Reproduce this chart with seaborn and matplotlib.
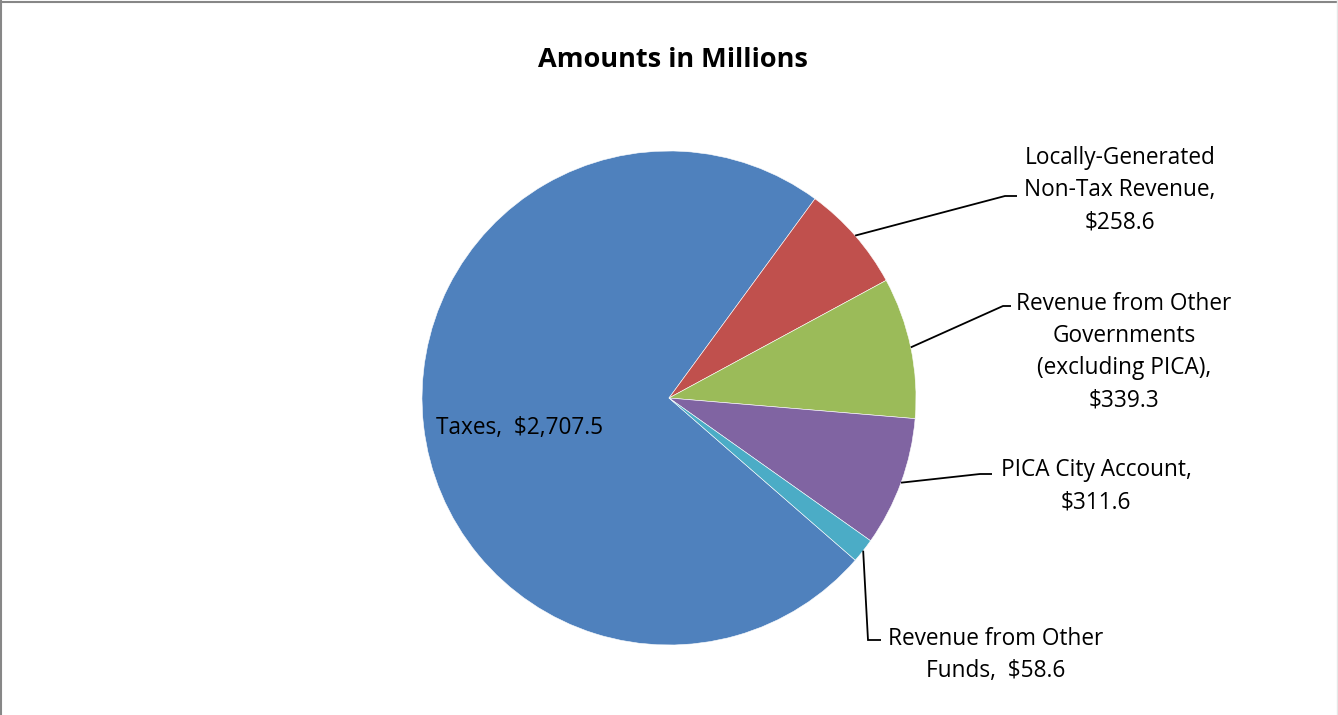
import matplotlib
matplotlib.use("Agg")
import matplotlib.pyplot as plt
from matplotlib.lines import Line2D
import numpy as np
import seaborn as sns

# ---- data ----
categories = ["Taxes", "Locally-Generated\nNon-Tax Revenue",
              "Revenue from Other\nGovernments\n(excluding PICA)",
              "PICA City Account", "Revenue from Other\nFunds"]
values = [2707.5, 258.6, 339.3, 311.6, 58.6]
label_texts = ["Taxes,  $2,707.5",
               "Locally-Generated\nNon-Tax Revenue,\n$258.6",
               "Revenue from Other\nGovernments\n(excluding PICA),\n$339.3",
               "PICA City Account,\n$311.6",
               "Revenue from Other\nFunds,  $58.6"]
title = "Amounts in Millions"

# ---- style ----
sns.set_theme(style="white")
plt.rcParams['font.family'] = ['Open Sans', 'DejaVu Sans']
colors = sns.color_palette(["#4F81BD", "#C0504D", "#9BBB59", "#8064A2", "#4BACC6"])

W, H = 1338, 715
fig = plt.figure(figsize=(W / 100, H / 100), dpi=100)
ax = fig.add_axes([0, 0, 1, 1])

cx, cy, R = 669, 398, 247
# y axis inverted (pixel coords), so counterclock=True draws clockwise on screen
wedges, _ = ax.pie(values, colors=colors, startangle=41.05, counterclock=True,
                   center=(cx, cy), radius=R, frame=True,
                   wedgeprops=dict(edgecolor="white", linewidth=0.4))
ax.set_xlim(0, W)
ax.set_ylim(H, 0)
ax.axis("off")

# label layout (positions only)
label_x = [520, 1120, 1124, 1096, 996]
label_y0 = [434, 164, 310, 476, 645]   # first baseline
elbows = [None, [(1005, 196), (1017, 196)], [(1003, 306), (1011, 306)],
          [(980, 474), (992, 474)], [(868, 640), (881, 640)]]
pitch = 32
fs = 16.3

for i, w in enumerate(wedges):
    for k, line in enumerate(label_texts[i].split("\n")):
        ax.text(label_x[i], label_y0[i] + k * pitch, line, ha="center", va="baseline",
                fontsize=fs, color="black")
    if elbows[i] is not None:
        mid = np.deg2rad((w.theta1 + w.theta2) / 2)
        sx = cx + R * np.cos(mid)
        sy = cy + R * np.sin(mid)
        pts = [(sx, sy)] + elbows[i]
        ax.plot([p[0] for p in pts], [p[1] for p in pts], color="black", lw=1.3,
                solid_capstyle="butt", solid_joinstyle="miter")

ax.text(673, 67, title, ha="center", va="baseline", fontsize=19.5, fontweight="bold",
        color="black")

# chart border
fig.add_artist(Line2D([0, 1], [1 - 1.5 / H, 1 - 1.5 / H], transform=fig.transFigure,
                      color="#878787", lw=1.5))
fig.add_artist(Line2D([1 / W, 1 / W], [0, 1], transform=fig.transFigure,
                      color="#878787", lw=1.5))
fig.add_artist(Line2D([1 - 1 / W, 1 - 1 / W], [0, 1], transform=fig.transFigure,
                      color="#e6e6e6", lw=1))

fig.savefig("out.png", dpi=100, facecolor="white")
